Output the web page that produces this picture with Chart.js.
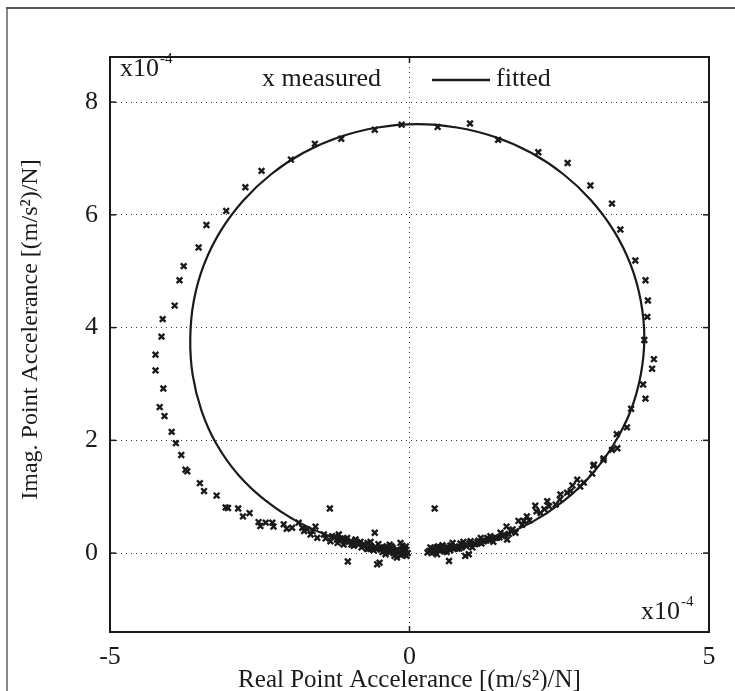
<!DOCTYPE html>
<html>
<head>
<meta charset="utf-8">
<script src="https://cdn.jsdelivr.net/npm/chart.js@4.4.0/dist/chart.umd.min.js"></script>
<style>
  html, body { margin: 0; padding: 0; background: #fff; }
  #wrap { position: relative; width: 735px; height: 691px; }
</style>
</head>
<body>
<div id="wrap"><canvas id="c" width="735" height="691"></canvas></div>
<script>
// values, in units of 1e-4 (m/s^2)/N
const xTicks = [-5, 0, 5];
const yTicks = [0, 2, 4, 6, 8];

const measuredRe = [
    -0.13, -0.58, -1.14, -1.58, -1.98, -2.47, -2.74, -3.06, -3.39, -3.52, -3.77, -3.84, -3.92, -4.12, -4.14, -4.24,
    -4.24, -4.11, -4.17, -4.09, -3.97, -3.90, -3.81, -3.74, -3.71, -3.50, -3.43, -3.22, -3.07, -3.03, -2.86, -2.78,
    -2.67, -2.52, -2.49, -2.40, -2.29, -2.27, -2.10, -2.05, -1.96, -1.85, -1.79, -1.71, -1.62, -1.57, -1.54, -1.43,
    -1.33, -1.29, -1.18, -1.12, -1.03, -0.98, -0.87, -0.76, -0.65, -0.58, -0.54, -0.50, -0.43, -0.35, -0.26, -0.18,
    -0.10, -0.12, -0.07, -0.21, -0.40, -0.71, -0.93, -1.21, -1.32, -1.04, -1.76,
    -0.30, -0.45, -0.60, -0.80, -0.90, -1.10, -0.15, -0.05, -0.25, -0.65, -1.40, -1.65, -0.08, -0.33, -0.52,
    -1.25, -1.15, -1.05, -0.95, -0.85, -0.75, -0.68, -0.62, -0.55, -0.48, -0.42, -0.38, -0.32, -0.28, -0.22,
    -0.16, -0.11, -0.06, -0.03, -0.14, -0.20, -0.27, -0.36, -0.47, -0.57, -0.70, -0.82, -0.97, -1.08, -1.20,
    0.47, 1.01, 1.48, 2.15, 2.64, 3.02, 3.38, 3.52, 3.77, 3.94, 3.98, 3.97, 3.92, 4.08, 4.05, 3.90,
    3.94, 3.70, 3.63, 3.46, 3.47, 3.38, 3.24, 3.08, 3.24, 3.07, 3.05, 2.91, 2.72, 2.69, 2.52, 2.51,
    2.30, 2.33, 2.10, 2.12, 1.96, 1.82, 1.62, 1.52, 1.35, 1.19, 1.02, 0.85, 0.68, 0.52, 0.38, 0.30,
    0.42, 0.66, 0.93, 0.99, 0.46, 1.24, 1.46, 1.63, 1.77, 1.91, 2.19, 2.44, 2.63, 2.85, 1.10, 0.74,
    0.57, 1.32, 1.69,
    0.40, 0.55, 0.62, 0.80, 0.90, 1.05, 1.15, 1.40, 1.55, 0.35, 0.50, 0.72, 2.00, 2.25, 2.80, 1.88,
    0.33, 0.37, 0.43, 0.48, 0.53, 0.58, 0.63, 0.68, 0.76, 0.83, 0.88, 0.95, 1.00, 1.08, 1.13,
    1.20, 1.28, 1.36, 1.43, 1.50, 1.58, 1.66, 1.72, 0.45, 0.60, 0.70, 0.87, 1.00, 1.18, 1.30
];
const measuredIm = [
    7.60, 7.51, 7.35, 7.26, 6.98, 6.78, 6.49, 6.07, 5.82, 5.42, 5.09, 4.84, 4.39, 4.15, 3.84, 3.52,
    3.24, 2.92, 2.59, 2.43, 2.15, 1.95, 1.74, 1.48, 1.45, 1.24, 1.10, 1.02, 0.81, 0.80, 0.79, 0.65,
    0.71, 0.55, 0.48, 0.54, 0.54, 0.47, 0.51, 0.43, 0.45, 0.54, 0.45, 0.42, 0.39, 0.47, 0.27, 0.33,
    0.79, 0.30, 0.33, 0.24, -0.15, 0.21, 0.19, 0.16, 0.13, 0.36, -0.20, -0.17, 0.10, 0.07, 0.04, 0.01,
    -0.02, 0.13, 0.07, -0.08, -0.02, 0.07, 0.13, 0.24, 0.21, 0.27, 0.39,
    0.12, 0.02, 0.05, 0.10, 0.24, 0.15, 0.18, -0.05, -0.05, 0.20, 0.26, 0.33, 0.02, 0.15, 0.16,
    0.28, 0.26, 0.22, 0.18, 0.15, 0.13, 0.08, 0.10, 0.07, 0.06, 0.04, 0.12, 0.02, 0.09, 0.05,
    0.03, 0.08, 0.12, 0.00, -0.04, 0.06, 0.00, 0.03, 0.10, 0.11, 0.18, 0.20, 0.15, 0.20, 0.18,
    7.56, 7.62, 7.33, 7.11, 6.92, 6.52, 6.20, 5.74, 5.19, 4.84, 4.48, 4.19, 3.78, 3.44, 3.27, 2.99,
    2.74, 2.56, 2.23, 2.11, 1.86, 1.83, 1.68, 1.57, 1.65, 1.55, 1.41, 1.25, 1.20, 1.10, 1.04, 0.95,
    0.92, 0.83, 0.84, 0.74, 0.65, 0.57, 0.47, 0.36, 0.30, 0.27, 0.21, 0.17, 0.13, 0.10, 0.07, 0.01,
    0.79, -0.14, -0.05, -0.02, -0.02, 0.21, 0.27, 0.24, 0.36, 0.57, 0.71, 0.86, 1.07, 1.18, 0.16, 0.07,
    0.04, 0.24, 0.39,
    0.02, 0.14, 0.02, 0.08, 0.20, 0.10, 0.22, 0.20, 0.30, 0.10, 0.05, 0.18, 0.58, 0.78, 1.30, 0.50,
    0.04, 0.00, 0.06, 0.12, 0.08, 0.03, 0.11, 0.05, 0.12, 0.08, 0.15, 0.12, 0.17, 0.16, 0.19,
    0.17, 0.22, 0.25, 0.27, 0.28, 0.33, 0.34, 0.42, 0.10, 0.07, 0.13, 0.10, 0.14, 0.19, 0.27
];

const fittedRe = [
    0.46, 0.79, 1.43, 2.03, 2.57, 3.03, 3.41, 3.69, 3.86, 3.92, 3.86, 3.69, 3.41, 3.03, 2.57, 2.03,
    1.43, 0.79, 0.13, -0.53, -1.17, -1.77, -2.31, -2.77, -3.15, -3.43, -3.60, -3.66, -3.62, -3.47,
    -3.22, -2.86, -2.39, -1.84, -1.22, -0.56, -0.20
];
const fittedIm = [
    0.04, 0.09, 0.26, 0.54, 0.92, 1.38, 1.93, 2.52, 3.16, 3.82, 4.48, 5.12, 5.72, 6.26, 6.72, 7.10,
    7.38, 7.55, 7.61, 7.55, 7.38, 7.10, 6.72, 6.26, 5.72, 5.12, 4.48, 3.82, 3.16, 2.52,
    1.93, 1.39, 0.92, 0.54, 0.26, 0.09, 0.04
];

const SERIF = '"Liberation Serif", "DejaVu Serif", serif';
const INK = '#1a1a1a';

const measured = measuredRe.map((v, i) => ({ x: v, y: measuredIm[i] }));
const fitted = fittedRe.map((v, i) => ({ x: v, y: fittedIm[i] }));

function line(ctx, x1, y1, x2, y2) {
    ctx.beginPath(); ctx.moveTo(x1, y1); ctx.lineTo(x2, y2); ctx.stroke();
}

function expLabel(ctx, x, y) {
    ctx.font = '26px ' + SERIF;
    ctx.textAlign = 'left';
    ctx.textBaseline = 'middle';
    ctx.fillText('x10', x, y);
    const w = ctx.measureText('x10').width;
    ctx.font = '15px ' + SERIF;
    ctx.fillText('-4', x + w + 1, y - 10);
}

const decor = {
    id: 'decor',
    beforeDraw(chart) {
        const { ctx } = chart;
        ctx.save();
        ctx.fillStyle = '#fff';
        ctx.fillRect(0, 0, chart.width, chart.height);
        ctx.strokeStyle = '#888';
        ctx.lineWidth = 2;
        line(ctx, 7, 691, 7, 8);
        ctx.strokeStyle = '#555';
        line(ctx, 6, 8, 735, 8);
        ctx.restore();
    },
    afterDraw(chart) {
        const { ctx, chartArea: a, scales: { x, y } } = chart;
        ctx.save();
        ctx.strokeStyle = INK;
        ctx.lineWidth = 2;
        ctx.strokeRect(a.left, a.top, a.right - a.left, a.bottom - a.top);
        ctx.lineWidth = 1.5;
        yTicks.forEach(v => {
            const py = y.getPixelForValue(v);
            line(ctx, a.left, py, a.left + 6, py);
            line(ctx, a.right, py, a.right - 6, py);
        });
        xTicks.forEach(v => {
            const px = x.getPixelForValue(v);
            line(ctx, px, a.bottom, px, a.bottom - 6);
            line(ctx, px, a.top, px, a.top + 6);
        });

        ctx.fillStyle = INK;
        expLabel(ctx, a.left + 10, a.top + 12);
        expLabel(ctx, a.right - 68, a.bottom - 20);

        // legend
        ctx.font = '26px ' + SERIF;
        ctx.textAlign = 'left';
        ctx.textBaseline = 'middle';
        ctx.fillText('x measured', 262, 79);
        ctx.lineWidth = 2.5;
        line(ctx, 432, 80, 490, 80);
        ctx.fillText('fitted', 496, 79);
        ctx.restore();
    }
};

new Chart(document.getElementById('c'), {
    type: 'scatter',
    data: {
        datasets: [
            {
                label: 'measured',
                data: measured,
                pointStyle: 'crossRot',
                pointRadius: 4,
                pointBorderWidth: 2.4,
                borderColor: INK,
                backgroundColor: INK,
                order: 1
            },
            {
                label: 'fitted',
                data: fitted,
                showLine: true,
                tension: 0.4,
                pointRadius: 0,
                borderColor: INK,
                borderWidth: 2.2,
                order: 2
            }
        ]
    },
    options: {
        responsive: false,
        animation: false,
        layout: { padding: { top: 57, right: 26, left: 0, bottom: 0 } },
        plugins: { legend: { display: false }, tooltip: { enabled: false } },
        scales: {
            x: {
                type: 'linear',
                min: -5, max: 5,
                afterBuildTicks: s => { s.ticks = xTicks.map(v => ({ value: v })); },
                afterFit: s => { s.height = 59; },
                grid: { color: '#333', lineWidth: 1, drawTicks: false },
                border: { display: true, color: INK, width: 2, dash: [1, 4] },
                ticks: { padding: 10, color: INK, font: { family: SERIF, size: 26 } },
                title: {
                    display: true,
                    text: 'Real Point Accelerance [(m/s²)/N]',
                    color: INK,
                    font: { family: SERIF, size: 25, lineHeight: 1 },
                    padding: { top: 0, bottom: -2 }
                }
            },
            y: {
                type: 'linear',
                min: -1.4, max: 8.8,
                afterBuildTicks: s => { s.ticks = yTicks.map(v => ({ value: v })); },
                afterFit: s => { s.width = 110; },
                grid: { color: '#333', lineWidth: 1, drawTicks: false },
                border: { display: true, color: INK, width: 2, dash: [1, 4] },
                ticks: { padding: 12, color: INK, font: { family: SERIF, size: 26 } },
                title: {
                    display: true,
                    text: '     Imag. Point Accelerance [(m/s²)/N]',
                    color: INK,
                    font: { family: SERIF, size: 24, lineHeight: 1 },
                    padding: { top: 19, bottom: 0 }
                }
            }
        }
    },
    plugins: [decor]
});
</script>
</body>
</html>
